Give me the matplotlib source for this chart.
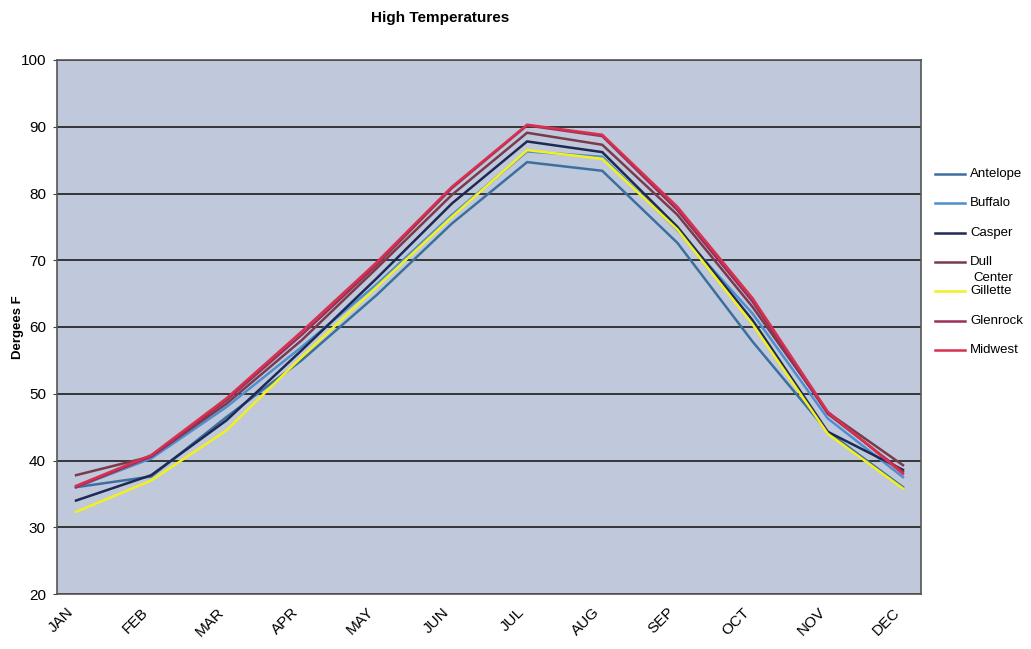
import matplotlib
matplotlib.use("Agg")
import matplotlib.pyplot as plt
from matplotlib.lines import Line2D

plt.rcParams['font.family'] = ['Liberation Sans', 'DejaVu Sans']

months = ["JAN", "FEB", "MAR", "APR", "MAY", "JUN", "JUL", "AUG", "SEP", "OCT", "NOV", "DEC"]

antelope = [36.0, 37.6, 46.5, 55.0, 64.8, 75.5, 84.7, 83.4, 72.6, 57.8, 44.3, 36.0]
buffalo  = [36.0, 40.3, 48.0, 57.0, 66.4, 76.8, 86.3, 85.5, 74.5, 62.0, 46.3, 37.5]
casper   = [34.0, 37.8, 46.0, 56.5, 67.3, 78.5, 87.8, 86.2, 75.0, 61.0, 44.3, 38.6]
dull     = [37.8, 40.6, 48.5, 58.0, 68.8, 79.8, 89.1, 87.3, 76.8, 63.0, 47.2, 39.3]
gillette = [32.3, 37.0, 44.5, 55.5, 66.0, 76.5, 86.5, 85.2, 74.6, 60.4, 44.0, 35.8]
glenrock = [36.0, 40.6, 49.0, 58.8, 69.3, 80.8, 90.2, 88.6, 77.5, 63.8, 47.0, 38.3]
midwest  = [36.2, 40.8, 49.3, 59.3, 69.7, 81.0, 90.3, 88.8, 78.0, 64.3, 47.3, 38.0]

series_names = ["Antelope", "Buffalo", "Casper", "Dull", "Center\nGillette", "Glenrock", "Midwest"]
series_values = [antelope, buffalo, casper, dull, gillette, glenrock, midwest]
colors = ["#3d6f9e", "#4f8fcf", "#1e2a55", "#7a3a4c", "#f2f01e", "#9a2f5a", "#d8304e"]

fig = plt.figure(figsize=(10.31, 6.49), dpi=100)
ax = fig.add_axes([57/1031, 1-594/649, (921-57)/1031, (594-60)/649])
ax.set_facecolor("#bfc9db")

x = list(range(len(months)))
for vals, c in zip(series_values, colors):
    ax.plot(x, vals, color=c, lw=1.8, solid_joinstyle='miter')

ax.set_ylim(20, 100)
ax.set_xlim(-0.253, 11.24)
ax.set_yticks(range(20, 101, 10))
ax.yaxis.grid(True, color="#2a2a2a", lw=1.3)
ax.set_axisbelow(True)
ax.set_xticks(x)
ax.set_xticklabels(months, rotation=45, ha='right', fontsize=11)
ax.tick_params(axis='x', length=0, pad=8)
ax.tick_params(axis='y', length=3, labelsize=11, color="#444444", pad=5)
for s in ax.spines.values():
    s.set_color("#555555")
    s.set_linewidth(1.2)

fig.text(18/1031, 1-327/649, "Dergees F", rotation=90, ha='center', va='center',
         fontsize=9.5, fontweight='bold')
fig.text(440/1031, 1-18/649, "High Temperatures", ha='center', va='center',
         fontsize=11, fontweight='bold')

# legend drawn manually
y0 = 174
step = 29.3
for i, (name, c) in enumerate(zip(series_names, colors)):
    yy = 1 - (y0 + i*step)/649
    fig.add_artist(Line2D([935/1031, 965/1031], [yy, yy], color=c, lw=1.8,
                          transform=fig.transFigure))
    if "\n" in name:
        top, bot = name.split("\n")
        fig.text(970/1031, yy, bot, ha='left', va='center', fontsize=9.5)
        fig.text(973/1031, yy + 13/649, top, ha='left', va='center', fontsize=9.5)
    else:
        fig.text(970/1031, yy, name, ha='left', va='center', fontsize=9.5)

fig.savefig("out.png", dpi=100, facecolor="white")
